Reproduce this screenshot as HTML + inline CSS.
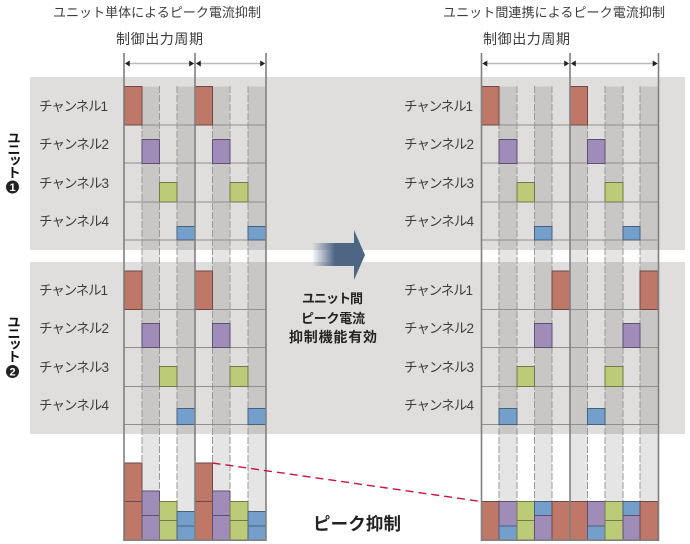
<!DOCTYPE html>
<html><head><meta charset="utf-8"><style>
html,body{margin:0;padding:0;background:#fff}
svg{display:block}
text{font-family:"Liberation Sans","Noto Sans CJK JP",sans-serif;fill:#3c3c3c}
.t{font-size:13px}
.m{font-size:13.5px}
.q{font-size:14px}
.b{font-size:14px;font-weight:700;fill:#222}
.r{fill:#bf7868;stroke:#6e4a44}.p{fill:#a08cb8;stroke:#5d4f6e}.g{fill:#bccb78;stroke:#727a4c}.u{fill:#749fcb;stroke:#47617c}
.s{fill:rgba(0,0,0,.1)}
.d{stroke:#999;stroke-width:1;stroke-dasharray:7 2;fill:none}
.l{stroke:#8f8f8f;stroke-width:1;fill:none}
.o{stroke:#808080;stroke-width:1.6;fill:none}
.a{stroke:#bbb;stroke-width:1.5;fill:none}
.h{fill:#222}
.v{position:absolute;left:3px;width:18px;writing-mode:vertical-rl;font:700 13.5px/18px "Liberation Sans","Noto Sans CJK JP",sans-serif;color:#111;letter-spacing:-2px}
</style></head><body>
<div style="position:relative;width:690px;height:544px;overflow:hidden">
<svg width="690" height="544" viewBox="0 0 690 544" xmlns="http://www.w3.org/2000/svg">
<defs>
<g id="rows"><path class="l" d="M0 125H142M0 163H142M0 202H142M0 240H142M0 309.5H142M0 347.5H142M0 386.5H142M0 424.5H142"/></g>
</defs>
<rect x="30" y="77" width="655" height="173" fill="#dfdedd"/>
<rect x="30" y="262" width="655" height="172" fill="#dfdedd"/>

<!-- shading left -->
<rect class="s" x="142" y="86.5" width="17.5" height="453"/>
<rect class="s" x="177" y="86.5" width="18" height="453"/>
<rect class="s" x="212.5" y="86.5" width="17.5" height="453"/>
<rect class="s" x="248" y="86.5" width="18" height="453"/>
<!-- shading right -->
<rect class="s" x="499" y="86.5" width="18" height="453"/>
<rect class="s" x="534.5" y="86.5" width="17.5" height="453"/>
<rect class="s" x="570" y="86.5" width="17.5" height="453"/>
<rect class="s" x="605" y="86.5" width="18" height="453"/>
<rect class="s" x="640" y="86.5" width="18" height="453"/>

<!-- dashes -->
<path class="d" d="M142 86V540M159.5 86V540M177 86V540M212.5 86V540M230 86V540M248 86V540"/>
<path class="d" d="M499 86V540M517 86V540M534.5 86V540M552 86V540M587.5 86V540M605 86V540M623 86V540M640 86V540"/>

<use href="#rows" x="124"/>
<path class="l" d="M481 125H658M481 163H658M481 202H658M481 240H658M481 309.5H658M481 347.5H658M481 386.5H658M481 424.5H658"/>

<!-- left unit 1 -->
<rect class="r" x="124.500" y="86.500" width="17.500" height="38.500"/>
<rect class="r" x="195" y="86.500" width="17.500" height="38.500"/>
<rect class="p" x="142" y="139.500" width="17.500" height="24"/>
<rect class="p" x="212.500" y="139.500" width="17.500" height="24"/>
<rect class="g" x="159.500" y="182.500" width="17.500" height="19.500"/>
<rect class="g" x="230" y="182.500" width="18" height="19.500"/>
<rect class="u" x="177" y="226.500" width="18" height="13.500"/>
<rect class="u" x="248" y="226.500" width="18" height="13.500"/>
<!-- left unit 2 -->
<rect class="r" x="124.500" y="271" width="17.500" height="38.500"/>
<rect class="r" x="195" y="271" width="17.500" height="38.500"/>
<rect class="p" x="142" y="323.500" width="17.500" height="24"/>
<rect class="p" x="212.500" y="323.500" width="17.500" height="24"/>
<rect class="g" x="159.500" y="366.500" width="17.500" height="20"/>
<rect class="g" x="230" y="366.500" width="18" height="20"/>
<rect class="u" x="177" y="408.500" width="18" height="16"/>
<rect class="u" x="248" y="408.500" width="18" height="16"/>

<!-- right unit 1 -->
<rect class="r" x="481.500" y="86.500" width="17.500" height="38.500"/>
<rect class="r" x="570" y="86.500" width="17.500" height="38.500"/>
<rect class="p" x="499" y="139.500" width="18" height="24"/>
<rect class="p" x="587.500" y="139.500" width="17.500" height="24"/>
<rect class="g" x="517" y="182.500" width="17.500" height="19.500"/>
<rect class="g" x="605" y="182.500" width="18" height="19.500"/>
<rect class="u" x="534.500" y="226.500" width="17.500" height="13.500"/>
<rect class="u" x="623" y="226.500" width="17" height="13.500"/>
<!-- right unit 2 -->
<rect class="r" x="552" y="271" width="18" height="38.500"/>
<rect class="r" x="640" y="271" width="18" height="38.500"/>
<rect class="p" x="534.500" y="323.500" width="17.500" height="24"/>
<rect class="p" x="623" y="323.500" width="17" height="24"/>
<rect class="g" x="517" y="366.500" width="17.500" height="20"/>
<rect class="g" x="605" y="366.500" width="18" height="20"/>
<rect class="u" x="499" y="408.500" width="18" height="16"/>
<rect class="u" x="587.500" y="408.500" width="17.500" height="16"/>

<!-- left stacks -->
<rect class="r" x="124.500" y="463" width="17.500" height="38.500"/><rect class="r" x="124.500" y="501.500" width="17.500" height="38.500"/>
<rect class="p" x="142" y="491" width="17.500" height="24.500"/><rect class="p" x="142" y="515.500" width="17.500" height="24.500"/>
<rect class="g" x="159.500" y="501.500" width="17.500" height="19"/><rect class="g" x="159.500" y="520.500" width="17.500" height="19.500"/>
<rect class="u" x="177" y="511.500" width="18" height="14.500"/><rect class="u" x="177" y="526" width="18" height="14"/>
<rect class="r" x="195" y="463" width="17.500" height="38.500"/><rect class="r" x="195" y="501.500" width="17.500" height="38.500"/>
<rect class="p" x="212.500" y="491" width="17.500" height="24.500"/><rect class="p" x="212.500" y="515.500" width="17.500" height="24.500"/>
<rect class="g" x="230" y="501.500" width="18" height="19"/><rect class="g" x="230" y="520.500" width="18" height="19.500"/>
<rect class="u" x="248" y="511.500" width="18" height="14.500"/><rect class="u" x="248" y="526" width="18" height="14"/>

<!-- right stacks -->
<rect class="r" x="481.500" y="501.500" width="17.500" height="38.500"/>
<rect class="p" x="499" y="501.500" width="18" height="24.500"/><rect class="u" x="499" y="526" width="18" height="14"/>
<rect class="g" x="517" y="501.500" width="17.500" height="19"/><rect class="g" x="517" y="520.500" width="17.500" height="19.500"/>
<rect class="u" x="534.500" y="501.500" width="17.500" height="14"/><rect class="p" x="534.500" y="515.500" width="17.500" height="24.500"/>
<rect class="r" x="552" y="501.500" width="18" height="38.500"/>
<rect class="r" x="570" y="501.500" width="17.500" height="38.500"/>
<rect class="p" x="587.500" y="501.500" width="17.500" height="24.500"/><rect class="u" x="587.500" y="526" width="17.500" height="14"/>
<rect class="g" x="605" y="501.500" width="18" height="19"/><rect class="g" x="605" y="520.500" width="18" height="19.500"/>
<rect class="u" x="623" y="501.500" width="17" height="14"/><rect class="p" x="623" y="515.500" width="17" height="24.500"/>
<rect class="r" x="640" y="501.500" width="18" height="38.500"/>

<!-- outer lines -->
<path class="o" d="M124 53V541M195 53V540M266 53V541M123.500 540.200H266.500"/>
<path class="o" d="M481.500 53V541M570 53V540M658.500 53V541M481 540.200H659"/>

<!-- period arrows -->
<path class="a" d="M127 63.500H192M198 63.500H263M484 63.500H567M573 63.500H656"/>
<path class="h" d="M124.800 63.500l5-3v6zM194.200 63.500l-5-3v6zM195.800 63.500l5-3v6zM265.200 63.500l-5-3v6z"/>
<path class="h" d="M482.300 63.500l5-3v6zM569.200 63.500l-5-3v6zM570.800 63.500l5-3v6zM657.700 63.500l-5-3v6z"/>

<!-- red dashed -->
<path d="M212.500 463L481 501.500" stroke="#c8153c" stroke-width="1.400" stroke-dasharray="8 5" fill="none"/>

<!-- big arrow -->
<defs><linearGradient id="gr" x1="312" x2="354" y1="0" y2="0" gradientUnits="userSpaceOnUse"><stop offset="0" stop-color="#4f6584" stop-opacity="0"/><stop offset=".55" stop-color="#4f6584"/><stop offset="1" stop-color="#4f6584"/></linearGradient></defs>
<rect x="312" y="243" width="42.500" height="23" fill="url(#gr)"/>
<path d="M354 230L365 255L354 280Z" fill="#4f6584"/>

<!-- titles -->
<text class="t" x="53" y="17" textLength="208" lengthAdjust="spacing">ユニット単体によるピーク電流抑制</text>
<text class="q" x="116" y="44" textLength="87" lengthAdjust="spacing">制御出力周期</text>
<text class="t" x="443" y="17" textLength="222" lengthAdjust="spacing">ユニット間連携によるピーク電流抑制</text>
<text class="q" x="483" y="44" textLength="87" lengthAdjust="spacing">制御出力周期</text>

<!-- labels left -->
<text class="m" x="39" y="111" textLength="69">チャンネル1</text>
<text class="m" x="39" y="149" textLength="70">チャンネル2</text>
<text class="m" x="39" y="188" textLength="70">チャンネル3</text>
<text class="m" x="39" y="226" textLength="70">チャンネル4</text>
<text class="m" x="39" y="295" textLength="69">チャンネル1</text>
<text class="m" x="39" y="333" textLength="70">チャンネル2</text>
<text class="m" x="39" y="372" textLength="70">チャンネル3</text>
<text class="m" x="39" y="410" textLength="70">チャンネル4</text>
<!-- labels right -->
<text class="m" x="404" y="111" textLength="69">チャンネル1</text>
<text class="m" x="404" y="149" textLength="70">チャンネル2</text>
<text class="m" x="404" y="188" textLength="70">チャンネル3</text>
<text class="m" x="404" y="226" textLength="70">チャンネル4</text>
<text class="m" x="404" y="295" textLength="69">チャンネル1</text>
<text class="m" x="404" y="333" textLength="70">チャンネル2</text>
<text class="m" x="404" y="372" textLength="70">チャンネル3</text>
<text class="m" x="404" y="410" textLength="70">チャンネル4</text>

<!-- center text -->
<text class="b" style="font-size:13px" x="302" y="303" textLength="61">ユニット間</text>
<text class="b" style="font-size:13px" x="301" y="323" textLength="64">ピーク電流</text>
<text class="b" x="289" y="342" textLength="88">抑制機能有効</text>
<text class="b" x="313" y="530" textLength="88" style="font-size:17.500px">ピーク抑制</text>

<!-- unit number circles -->
<circle cx="12.500" cy="187" r="6.500" fill="#222"/>
<text x="12.500" y="191" text-anchor="middle" style="font-size:11px;font-weight:700;fill:#fff">1</text>
<circle cx="12.500" cy="371.500" r="6.500" fill="#222"/>
<text x="12.500" y="375.500" text-anchor="middle" style="font-size:11px;font-weight:700;fill:#fff">2</text>
</svg>
<div class="v" style="top:131px">ユニット</div>
<div class="v" style="top:315px">ユニット</div>
</div>
</body></html>
